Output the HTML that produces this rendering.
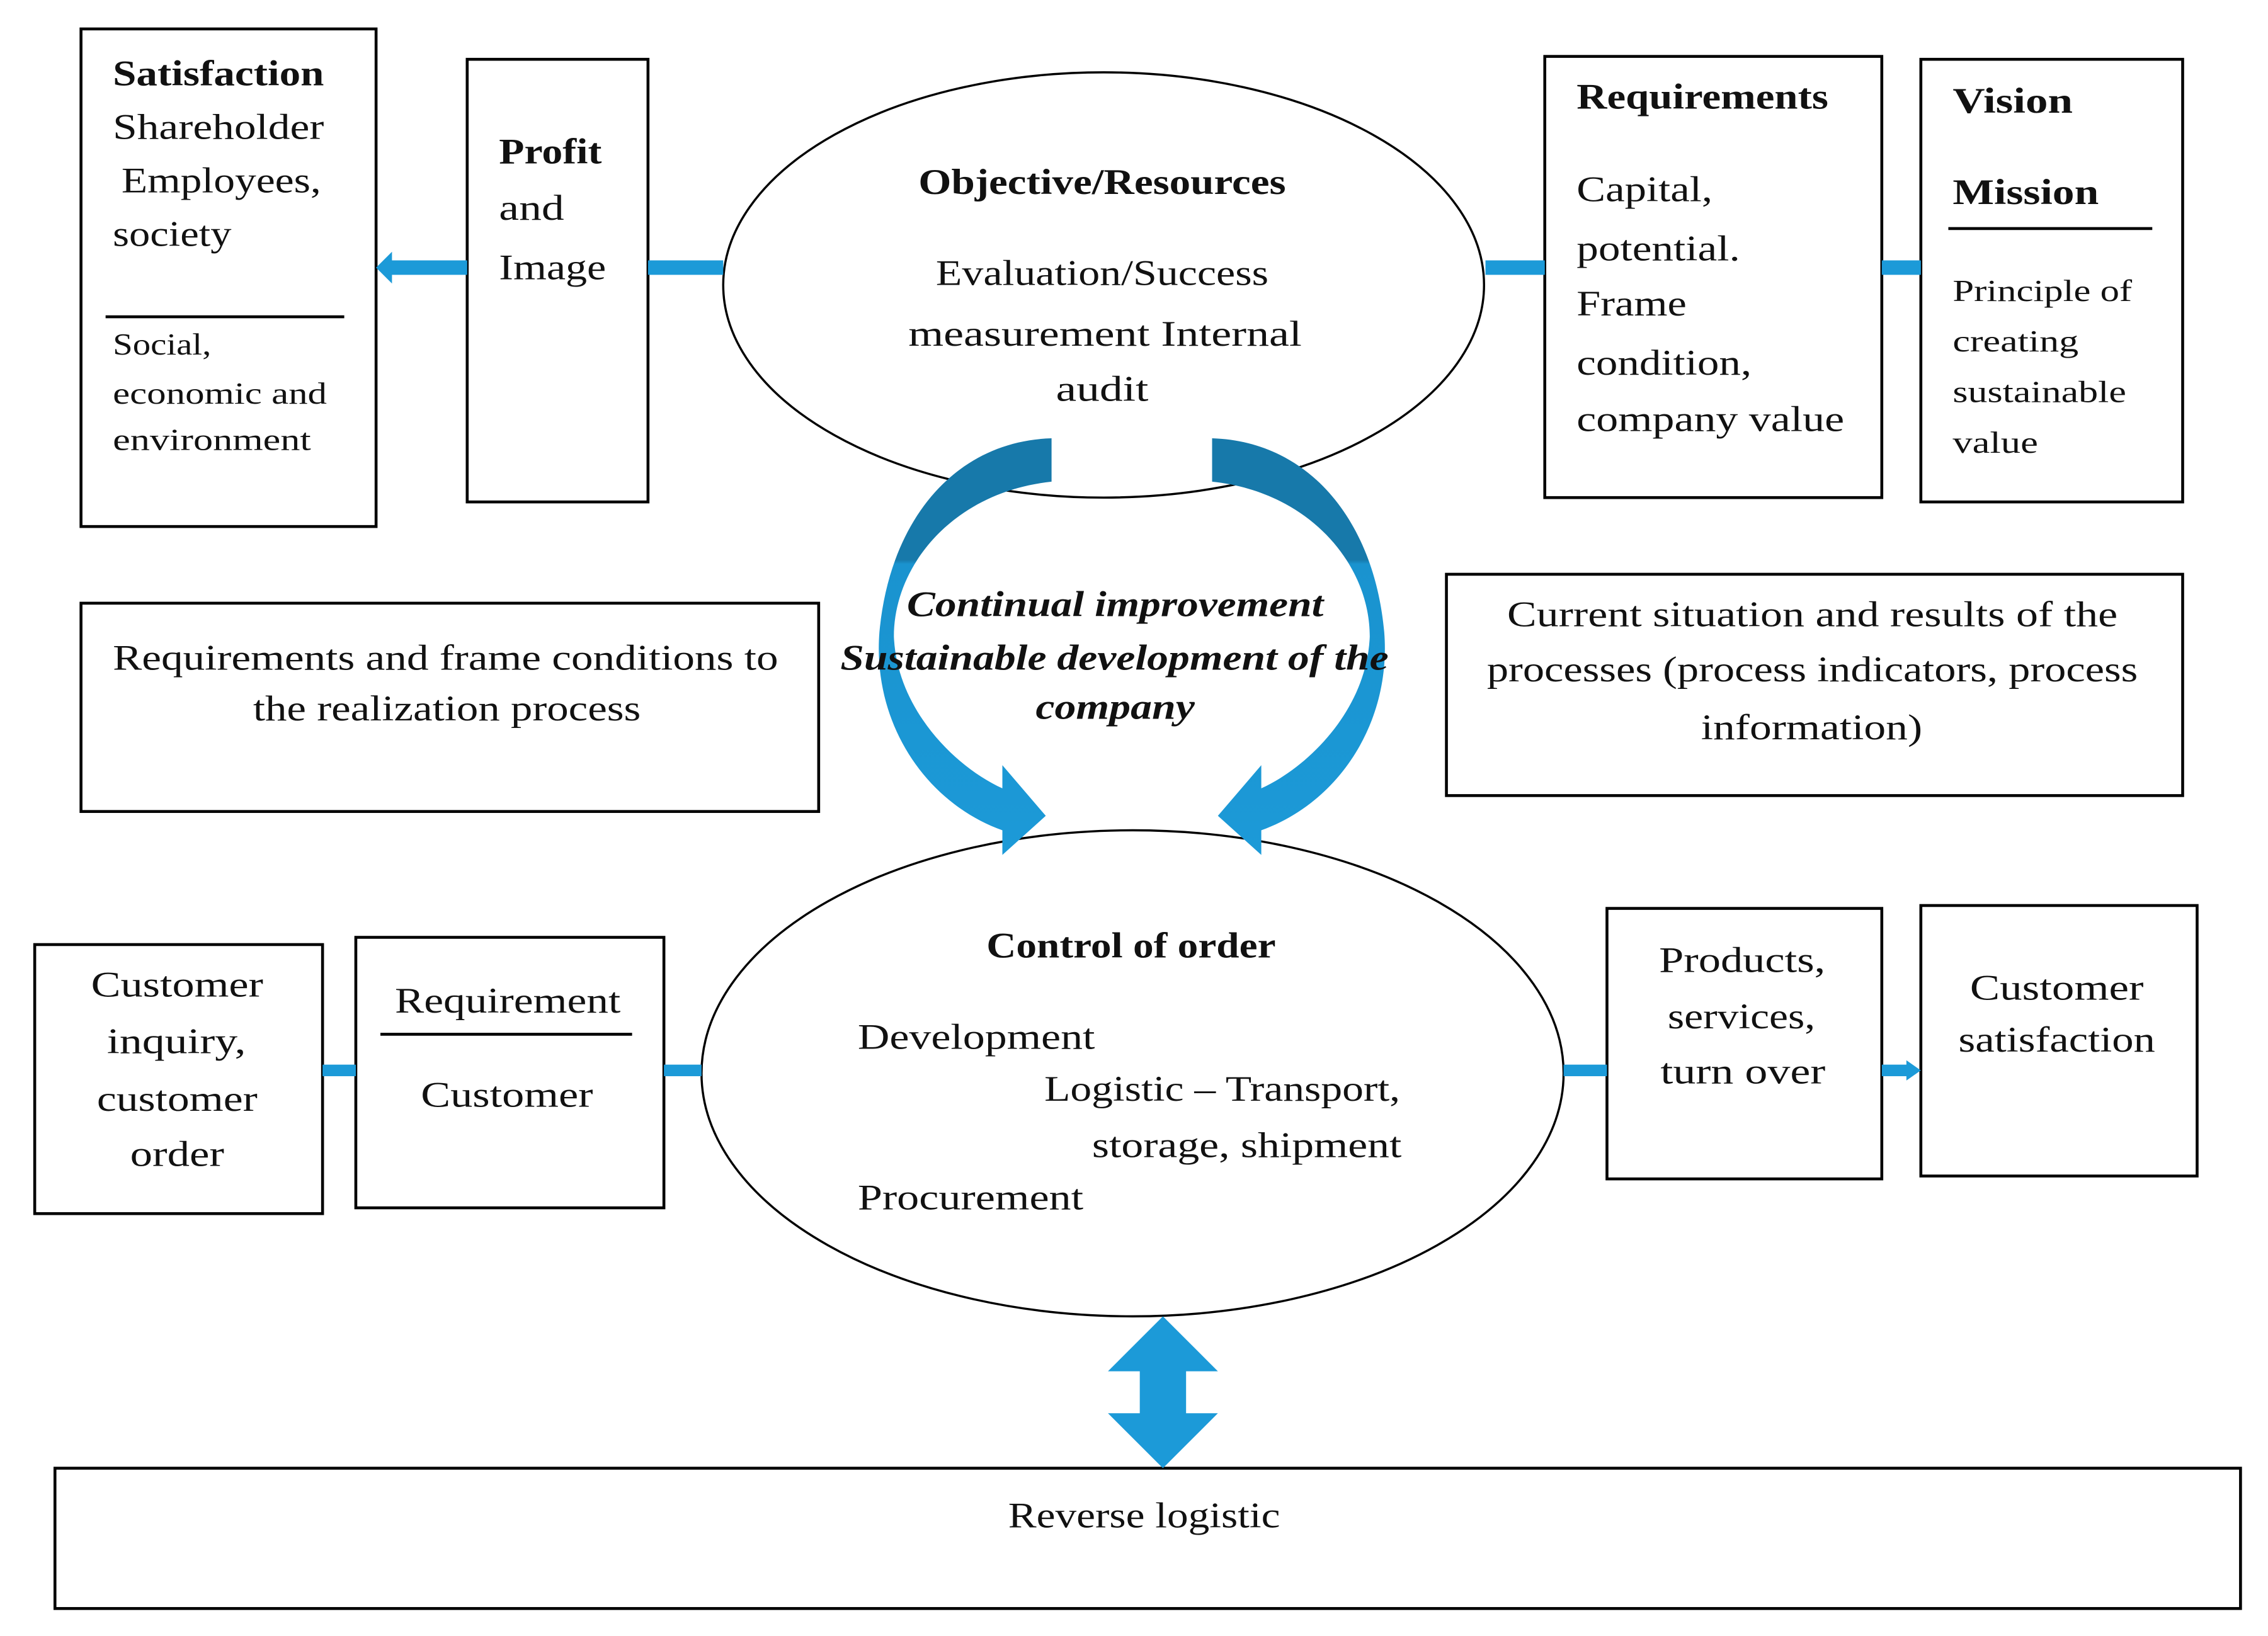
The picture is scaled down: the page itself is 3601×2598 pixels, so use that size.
<!DOCTYPE html>
<html><head><meta charset="utf-8"><style>
html,body{margin:0;padding:0;background:#fff;}
svg{display:block;}
text{font-family:"Liberation Serif",serif;fill:#111;}
</style></head><body>
<svg width="3601" height="2598" viewBox="0 0 1568 1131" preserveAspectRatio="none" xmlns="http://www.w3.org/2000/svg">
<defs>
<linearGradient id="ag" gradientUnits="userSpaceOnUse" x1="0" y1="300" x2="0" y2="600">
<stop offset="0" stop-color="#1779aa"/><stop offset="0.29" stop-color="#1779aa"/>
<stop offset="0.30" stop-color="#1a93cf"/><stop offset="1" stop-color="#1c9ad8"/>
</linearGradient>
</defs>
<g fill="none" stroke="#000" stroke-width="2">
<rect x="56" y="20" width="204" height="344"/>
<rect x="323" y="41" width="125" height="306"/>
<ellipse cx="763" cy="197" rx="263" ry="147" stroke-width="1.5"/>
<rect x="1068" y="39" width="233" height="305"/>
<rect x="1328" y="41" width="181" height="306"/>
<rect x="56" y="417" width="510" height="144"/>
<rect x="1000" y="397" width="509" height="153"/>
<ellipse cx="783" cy="742" rx="298" ry="168" stroke-width="1.5"/>
<rect x="24" y="653" width="199" height="186"/>
<rect x="246" y="648" width="213" height="187"/>
<rect x="1111" y="628" width="190" height="187"/>
<rect x="1328" y="626" width="191" height="187"/>
<rect x="38" y="1015" width="1511" height="97"/>
<line x1="73" y1="219" x2="238" y2="219"/>
<line x1="1347" y1="158" x2="1488" y2="158"/>
<line x1="263" y1="715" x2="437" y2="715"/>
</g>
<g fill="#1c9ad8">
<rect x="448" y="180" width="52" height="10"/>
<rect x="1027" y="180" width="41" height="10"/>
<rect x="1301" y="180" width="27" height="10"/>
<rect x="268" y="180" width="55" height="10"/>
<polygon points="260,185 271,174 271,196"/>
<rect x="223" y="736" width="23" height="8"/>
<rect x="459" y="736" width="26" height="8"/>
<rect x="1081" y="736" width="30" height="8"/>
<rect x="1301" y="736" width="20" height="8"/>
<polygon points="1328,740 1318,733 1318,747"/>
<polygon points="804,910 842,948 820,948 820,977 842,977 804,1015 766,977 788,977 788,948 766,948"/>
</g>
<path fill="url(#ag)" d="M727,303 C660,305 615,360 608,437 C603,500 640,555 693,574 L693,591 L723,564 L693,529 L693,545 C660,530 620,490 618,440 C618,390 660,340 727,333 Z"/>
<path fill="url(#ag)" d="M838,303 C905,305 950,360 957,437 C962,500 925,555 872,574 L872,591 L842,564 L872,529 L872,545 C905,530 945,490 947,440 C947,390 905,340 838,333 Z"/>
<g font-size="25" lengthAdjust="spacingAndGlyphs">
<text x="78" y="59" font-weight="bold" textLength="146" lengthAdjust="spacingAndGlyphs">Satisfaction</text>
<text x="78" y="96" textLength="146" lengthAdjust="spacingAndGlyphs">Shareholder</text>
<text x="84" y="133" textLength="138" lengthAdjust="spacingAndGlyphs">Employees,</text>
<text x="78" y="170" textLength="82" lengthAdjust="spacingAndGlyphs">society</text>
<text x="78" y="245" font-size="21" textLength="68" lengthAdjust="spacingAndGlyphs">Social,</text>
<text x="78" y="279" font-size="21" textLength="148" lengthAdjust="spacingAndGlyphs">economic and</text>
<text x="78" y="311" font-size="21" textLength="137" lengthAdjust="spacingAndGlyphs">environment</text>
<text x="345" y="113" font-weight="bold" textLength="71" lengthAdjust="spacingAndGlyphs">Profit</text>
<text x="345" y="152" textLength="45" lengthAdjust="spacingAndGlyphs">and</text>
<text x="345" y="193" textLength="74" lengthAdjust="spacingAndGlyphs">Image</text>
<text x="635" y="134" font-weight="bold" textLength="254" lengthAdjust="spacingAndGlyphs">Objective/Resources</text>
<text x="647" y="197" textLength="230" lengthAdjust="spacingAndGlyphs">Evaluation/Success</text>
<text x="628" y="239" textLength="272" lengthAdjust="spacingAndGlyphs">measurement Internal</text>
<text x="730" y="277" textLength="64" lengthAdjust="spacingAndGlyphs">audit</text>
<text x="1090" y="75" font-weight="bold" textLength="174" lengthAdjust="spacingAndGlyphs">Requirements</text>
<text x="1090" y="139" textLength="94" lengthAdjust="spacingAndGlyphs">Capital,</text>
<text x="1090" y="180" textLength="113" lengthAdjust="spacingAndGlyphs">potential.</text>
<text x="1090" y="218" textLength="76" lengthAdjust="spacingAndGlyphs">Frame</text>
<text x="1090" y="259" textLength="121" lengthAdjust="spacingAndGlyphs">condition,</text>
<text x="1090" y="298" textLength="185" lengthAdjust="spacingAndGlyphs">company value</text>
<text x="1350" y="78" font-weight="bold" textLength="83" lengthAdjust="spacingAndGlyphs">Vision</text>
<text x="1350" y="141" font-weight="bold" textLength="101" lengthAdjust="spacingAndGlyphs">Mission</text>
<text x="1350" y="208" font-size="21" textLength="124" lengthAdjust="spacingAndGlyphs">Principle of</text>
<text x="1350" y="243" font-size="21" textLength="87" lengthAdjust="spacingAndGlyphs">creating</text>
<text x="1350" y="278" font-size="21" textLength="120" lengthAdjust="spacingAndGlyphs">sustainable</text>
<text x="1350" y="313" font-size="21" textLength="59" lengthAdjust="spacingAndGlyphs">value</text>
<text x="78" y="463" textLength="460" lengthAdjust="spacingAndGlyphs">Requirements and frame conditions to</text>
<text x="175" y="498" textLength="268" lengthAdjust="spacingAndGlyphs">the realization process</text>
<text x="1042" y="433" textLength="422" lengthAdjust="spacingAndGlyphs">Current situation and results of the</text>
<text x="1028" y="471" textLength="450" lengthAdjust="spacingAndGlyphs">processes (process indicators, process</text>
<text x="1176" y="511" textLength="153" lengthAdjust="spacingAndGlyphs">information)</text>
<g font-style="italic" font-weight="bold">
<text x="627" y="426" textLength="288" lengthAdjust="spacingAndGlyphs">Continual improvement</text>
<text x="581" y="463" textLength="379" lengthAdjust="spacingAndGlyphs">Sustainable development of the</text>
<text x="716" y="497" textLength="110" lengthAdjust="spacingAndGlyphs">company</text>
</g>
<text x="63" y="689" textLength="119" lengthAdjust="spacingAndGlyphs">Customer</text>
<text x="74" y="728" textLength="96" lengthAdjust="spacingAndGlyphs">inquiry,</text>
<text x="67" y="768" textLength="111" lengthAdjust="spacingAndGlyphs">customer</text>
<text x="90" y="806" textLength="65" lengthAdjust="spacingAndGlyphs">order</text>
<text x="273" y="700" textLength="156" lengthAdjust="spacingAndGlyphs">Requirement</text>
<text x="291" y="765" textLength="119" lengthAdjust="spacingAndGlyphs">Customer</text>
<text x="682" y="662" font-weight="bold" textLength="200" lengthAdjust="spacingAndGlyphs">Control of order</text>
<text x="593" y="725" textLength="164" lengthAdjust="spacingAndGlyphs">Development</text>
<text x="722" y="761" textLength="246" lengthAdjust="spacingAndGlyphs">Logistic – Transport,</text>
<text x="755" y="800" textLength="214" lengthAdjust="spacingAndGlyphs">storage, shipment</text>
<text x="593" y="836" textLength="156" lengthAdjust="spacingAndGlyphs">Procurement</text>
<text x="1147" y="672" textLength="115" lengthAdjust="spacingAndGlyphs">Products,</text>
<text x="1153" y="711" textLength="102" lengthAdjust="spacingAndGlyphs">services,</text>
<text x="1148" y="749" textLength="114" lengthAdjust="spacingAndGlyphs">turn over</text>
<text x="1362" y="691" textLength="120" lengthAdjust="spacingAndGlyphs">Customer</text>
<text x="1354" y="727" textLength="136" lengthAdjust="spacingAndGlyphs">satisfaction</text>
<text x="697" y="1056" textLength="188" lengthAdjust="spacingAndGlyphs">Reverse logistic</text>
</g>
</svg>
</body></html>
